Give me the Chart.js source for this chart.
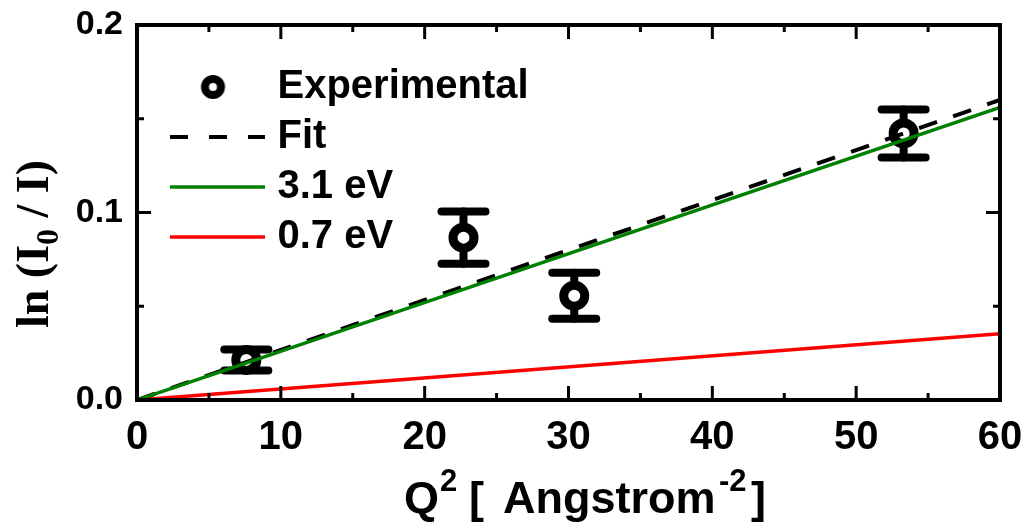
<!DOCTYPE html>
<html>
<head>
<meta charset="utf-8">
<script src="https://cdn.jsdelivr.net/npm/chart.js@4.4.1/dist/chart.umd.min.js"></script>
<style>
html,body{margin:0;padding:0;background:#fff;}
#wrap{width:1028px;height:529px;}
</style>
</head>
<body>
<div id="wrap"><canvas id="c" width="1028" height="529"></canvas></div>
<script>
// ---- data ----
const expX = [7.6, 22.7, 30.4, 53.3];
const expY = [0.0214, 0.0866, 0.0556, 0.1422];
const expErr = [0.0056, 0.0139, 0.0123, 0.0128];
const lineX = [0, 60];
const fitY = [0, 0.160];
const ev31Y = [0, 0.156];
const ev07Y = [0, 0.0353];
const seriesLabels = ['Experimental', 'Fit', '3.1 eV', '0.7 eV'];
const xTicks = [0, 10, 20, 30, 40, 50, 60];
const xMinor = [5, 15, 25, 35, 45, 55];
const yTicks = [0, 0.1, 0.2];
const yMinor = [0.05, 0.15];

const SANS = '"Liberation Sans", Arial, Helvetica, sans-serif';
const SERIF = '"Liberation Serif", "Times New Roman", serif';
const GREEN = '#008000';
const RED = '#ff0000';

const pts = (xs, ys) => xs.map((v, i) => ({x: v, y: ys[i]}));

// legend symbol images
function lineImg(color, width, dash) {
  const c = document.createElement('canvas');
  c.width = 95; c.height = 10;
  const g = c.getContext('2d');
  g.strokeStyle = color; g.lineWidth = width; g.setLineDash(dash);
  g.beginPath(); g.moveTo(0, 5); g.lineTo(95, 5); g.stroke();
  return c;
}
function circleImg() {
  const c = document.createElement('canvas');
  c.width = 40; c.height = 30;
  const g = c.getContext('2d');
  g.fillStyle = '#fff'; g.strokeStyle = '#000'; g.lineWidth = 8;
  g.beginPath(); g.arc(15.5, 15, 8, 0, Math.PI * 2); g.fill(); g.stroke();
  return c;
}
const legendImgs = [circleImg(), lineImg('#000', 4, [18, 21]), lineImg(GREEN, 3.5, []), lineImg(RED, 3.5, [])];

const errorBars = {
  id: 'errorBars',
  beforeDatasetsDraw(chart) {
    const {ctx, scales: {x, y}} = chart;
    ctx.save();
    ctx.strokeStyle = '#000';
    ctx.lineCap = 'round';
    ctx.lineWidth = 8;
    expX.forEach((xv, i) => {
      const px = x.getPixelForValue(xv);
      const pt = y.getPixelForValue(expY[i] + expErr[i]);
      const pb = y.getPixelForValue(expY[i] - expErr[i]);
      ctx.beginPath(); ctx.moveTo(px, pt); ctx.lineTo(px, pb); ctx.stroke();
      ctx.beginPath(); ctx.moveTo(px - 22, pt); ctx.lineTo(px + 22, pt); ctx.stroke();
      ctx.beginPath(); ctx.moveTo(px - 22, pb); ctx.lineTo(px + 22, pb); ctx.stroke();
    });
    ctx.restore();
  }
};

const frame = {
  id: 'frame',
  afterLayout(chart) {
    const lg = chart.legend;
    if (lg) {
      lg.left = 167.5; lg.top = 57;
      lg.right = lg.left + 400; lg.bottom = lg.top + 320;
      lg.width = 400; lg.height = 320;
    }
  },
  afterDatasetsDraw(chart) {
    const {ctx, chartArea: a, scales: {x, y}} = chart;
    ctx.save();
    ctx.strokeStyle = '#000';
    ctx.lineWidth = 4;
    ctx.lineJoin = 'miter';
    ctx.strokeRect(a.left, a.top, a.right - a.left, a.bottom - a.top);
    ctx.lineWidth = 3;
    const seg = (x1, y1, x2, y2) => { ctx.beginPath(); ctx.moveTo(x1, y1); ctx.lineTo(x2, y2); ctx.stroke(); };
    xTicks.forEach(v => { const p = x.getPixelForValue(v); seg(p, a.bottom, p, a.bottom - 14); seg(p, a.top, p, a.top + 14); });
    xMinor.forEach(v => { const p = x.getPixelForValue(v); seg(p, a.bottom, p, a.bottom - 7); seg(p, a.top, p, a.top + 7); });
    yTicks.forEach(v => { const p = y.getPixelForValue(v); seg(a.left, p, a.left + 14, p); seg(a.right, p, a.right - 14, p); });
    yMinor.forEach(v => { const p = y.getPixelForValue(v); seg(a.left, p, a.left + 7, p); seg(a.right, p, a.right - 7, p); });
    ctx.restore();
  },
  afterDraw(chart) {
    const ctx = chart.ctx;
    ctx.save();
    ctx.fillStyle = '#000';
    ctx.textBaseline = 'alphabetic';
    ctx.textAlign = 'left';
    // x title
    const big = 'bold 45px ' + SANS, small = 'bold 31px ' + SANS;
    ctx.font = big; ctx.fillText('Q', 404, 513);
    ctx.font = small; ctx.fillText('2', 440, 491);
    ctx.font = big; ctx.fillText('[', 469, 513);
    ctx.fillText('Angstrom', 503, 513);
    ctx.font = small; ctx.fillText('-2', 719, 491);
    ctx.font = big; ctx.fillText(']', 751, 513);
    // y title
    ctx.translate(48, 328);
    ctx.rotate(-Math.PI / 2);
    let cx = 0;
    ctx.font = 'bold 46px ' + SERIF;
    ctx.fillText('ln (I', cx, 0); cx += ctx.measureText('ln (I').width;
    ctx.font = 'bold 32px ' + SERIF;
    ctx.fillText('0', cx, 10); cx += ctx.measureText('0').width;
    ctx.font = 'bold 46px ' + SERIF;
    ctx.fillText(' / I)', cx, 0);
    ctx.restore();
  }
};

new Chart(document.getElementById('c'), {
  data: {
    datasets: [
      { type: 'scatter', label: seriesLabels[0], data: pts(expX, expY), order: 10,
        pointRadius: 10.5, pointHoverRadius: 10.5, pointBorderWidth: 9, pointHoverBorderWidth: 9,
        pointBackgroundColor: '#fff', pointBorderColor: '#000' },
      { type: 'line', label: seriesLabels[1], data: pts(lineX, fitY), order: 2,
        borderColor: '#000', borderWidth: 4, borderDash: [19, 17], pointRadius: 0, fill: false },
      { type: 'line', label: seriesLabels[2], data: pts(lineX, ev31Y), order: 1,
        borderColor: GREEN, borderWidth: 3.5, pointRadius: 0, fill: false },
      { type: 'line', label: seriesLabels[3], data: pts(lineX, ev07Y), order: 3,
        borderColor: RED, borderWidth: 3.5, pointRadius: 0, fill: false }
    ]
  },
  options: {
    responsive: false,
    animation: false,
    devicePixelRatio: 1,
    layout: { padding: { top: 25, right: 28, left: 0, bottom: 0 } },
    scales: {
      x: {
        type: 'linear', position: 'bottom', min: 0, max: 60,
        grid: { display: false, drawTicks: false },
        border: { display: false },
        afterBuildTicks: s => { s.ticks = xTicks.map(v => ({ value: v })); },
        afterFit: s => { s.height = 129; s.paddingLeft = 0; s.paddingRight = 0; },
        ticks: { color: '#000', padding: 14, maxRotation: 0, autoSkip: false,
                 font: { family: SANS, size: 40, weight: 'bold' },
                 callback: v => String(v) }
      },
      y: {
        type: 'linear', position: 'left', min: 0, max: 0.2,
        grid: { display: false, drawTicks: false },
        border: { display: false },
        afterBuildTicks: s => { s.ticks = yTicks.map(v => ({ value: v })); },
        afterFit: s => { s.width = 137; s.paddingTop = 0; s.paddingBottom = 0; },
        ticks: { color: '#000', padding: 14, autoSkip: false,
                 font: { family: SANS, size: 34, weight: 'bold' },
                 callback: v => Number(v).toFixed(1) }
      }
    },
    plugins: {
      tooltip: { enabled: false },
      legend: {
        display: true,
        position: 'chartArea',
        align: 'start',
        labels: {
          usePointStyle: true,
          pointStyleWidth: 80,
          boxHeight: 40,
          padding: 10,
          color: '#000',
          font: { family: SANS, size: 40, weight: 'bold' },
          generateLabels: chart => chart.data.datasets.map((ds, i) => ({
            text: ds.label, pointStyle: legendImgs[i], fontColor: '#000',
            fillStyle: '#000', strokeStyle: '#000', lineWidth: 0, hidden: false, datasetIndex: i
          }))
        }
      }
    }
  },
  plugins: [errorBars, frame]
});
</script>
</body>
</html>
